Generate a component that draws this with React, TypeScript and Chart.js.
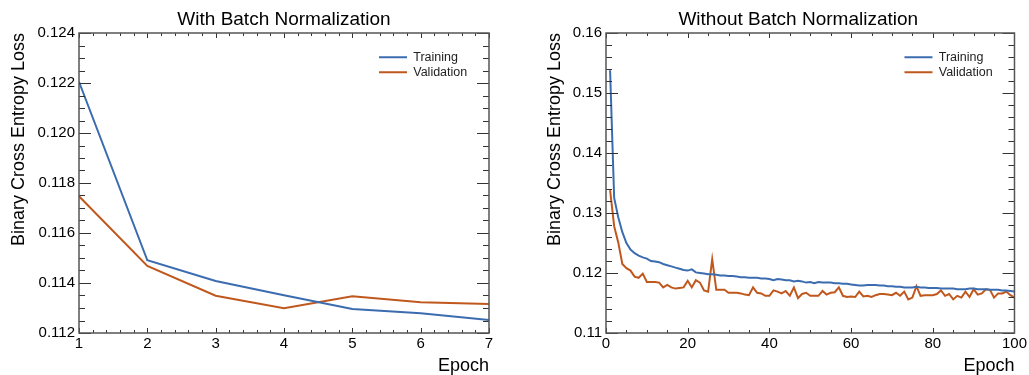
import React, { useEffect, useRef } from "react";
import { Chart, registerables } from "chart.js";

Chart.register(...registerables);

// ---------------- data ----------------
const seriesLabels = ["Training", "Validation"];
const leftTitle = "With Batch Normalization";
const rightTitle = "Without Batch Normalization";
const yAxisTitle = "Binary Cross Entropy Loss";
const xAxisTitle = "Epoch";

const leftEpochs = [1, 2, 3, 4, 5, 6, 7];
const leftTraining = [0.12205, 0.11491, 0.11408, 0.11351, 0.11296, 0.11279, 0.11252];
const leftValidation = [0.11747, 0.11468, 0.11349, 0.11299, 0.11347, 0.11323, 0.11316];

const rightEpochs = Array.from({ length: 100 }, (_, i) => i + 1);
const rightTraining = [
  0.1538, 0.1325, 0.1293, 0.1268, 0.125, 0.1239, 0.1233, 0.1229, 0.1226, 0.1224,
  0.122, 0.1219, 0.1218, 0.1215, 0.1213, 0.1211, 0.1209, 0.1207, 0.1205, 0.1204,
  0.1206, 0.1201, 0.12, 0.1199, 0.1198, 0.1198, 0.1197, 0.1196, 0.1196, 0.1195,
  0.1195, 0.1194, 0.1193, 0.1193, 0.1192, 0.1192, 0.1192, 0.1191, 0.1191, 0.119,
  0.1188, 0.119, 0.1189, 0.1188, 0.1188, 0.1186, 0.1187, 0.1186, 0.1184, 0.1185,
  0.1183, 0.1185, 0.1184, 0.1184, 0.1184, 0.1183, 0.1183, 0.1182, 0.1182, 0.1181,
  0.118, 0.1179, 0.1179, 0.118, 0.118, 0.118, 0.1179, 0.1179, 0.1178, 0.1178,
  0.1177, 0.1177, 0.1176, 0.1176, 0.1176, 0.1177, 0.1176, 0.1176, 0.1175, 0.1175,
  0.1175, 0.1174, 0.1174, 0.1174, 0.1174, 0.1173, 0.1173, 0.1173, 0.1174, 0.1174,
  0.1173, 0.1173, 0.1173, 0.1172, 0.1172, 0.1172, 0.1171, 0.1171, 0.117, 0.1169,
];
const rightValidation = [
  0.1338, 0.1278, 0.1251, 0.1215, 0.1208, 0.1204, 0.1194, 0.1192, 0.1199, 0.1185,
  0.1185, 0.1185, 0.1184, 0.1176, 0.118, 0.1176, 0.1174, 0.1175, 0.1176, 0.1187,
  0.1176, 0.1188, 0.1184, 0.1171, 0.1169, 0.1223, 0.1172, 0.1172, 0.1172, 0.1167,
  0.1167, 0.1167, 0.1166, 0.1164, 0.1163, 0.1176, 0.1167, 0.1166, 0.1162, 0.1162,
  0.1171, 0.1169, 0.1166, 0.117, 0.1162, 0.1176, 0.1158, 0.1165, 0.1167, 0.1162,
  0.1162, 0.1162, 0.117, 0.1164, 0.1167, 0.1168, 0.1176, 0.1162, 0.116, 0.1161,
  0.116, 0.1169, 0.1161, 0.1162, 0.116, 0.1163, 0.1165, 0.1165, 0.1164, 0.1163,
  0.1167, 0.1162, 0.1169, 0.1156, 0.1159, 0.1178, 0.1162, 0.1163, 0.1163, 0.1163,
  0.1165, 0.1171, 0.1162, 0.1165, 0.1156, 0.1162, 0.1159, 0.1169, 0.116, 0.1173,
  0.1164, 0.1166, 0.1173, 0.1172, 0.1159, 0.1166, 0.1166, 0.1169, 0.1163, 0.1159,
];

// ---------------- style ----------------
const BLUE = "#3b6cb0";
const ORANGE = "#c0581e";
const FONT = "'Liberation Sans', Arial, Helvetica, sans-serif";
const TEXT = "#000000";

// ROOT-like frame: inside ticks on all four sides, box frame, pad title, legend placement
const rootFrame: any = {
  id: "rootFrame",
  afterLayout(chart: any, _args: any, opts: any) {
    const lg = chart.legend;
    if (!lg) return;
    const a = chart.chartArea;
    const pad = lg.options.labels.padding;
    lg.left = a.right - opts.legendFromRight - pad;
    lg.top = a.top + opts.legendFromTop - pad;
    lg.right = lg.left + lg.width;
    lg.bottom = lg.top + lg.height;
  },
  afterDatasetsDraw(chart: any, _args: any, opts: any) {
    const { ctx, chartArea: a, scales } = chart;
    const xs = scales.x;
    const ys = scales.y;
    ctx.save();
    ctx.strokeStyle = "#333";
    ctx.lineWidth = 1;
    const each = (scale: any, minor: number, major: number, fn: (p: number, isMajor: boolean) => void) => {
      const n = Math.round((scale.max - scale.min) / minor);
      for (let i = 0; i <= n; i++) {
        const v = scale.min + i * minor;
        const r = v / major;
        const isMajor = Math.abs(r - Math.round(r)) < 1e-6;
        fn(Math.round(scale.getPixelForValue(v)) + 0.5, isMajor);
      }
    };
    ctx.beginPath();
    each(xs, opts.xMinor, opts.xMajor, (p, M) => {
      const len = M ? 5 : 3;
      ctx.moveTo(p, a.bottom);
      ctx.lineTo(p, a.bottom - len);
      ctx.moveTo(p, a.top);
      ctx.lineTo(p, a.top + len);
    });
    each(ys, opts.yMinor, opts.yMajor, (p, M) => {
      const len = M ? 12 : 6;
      ctx.moveTo(a.left, p);
      ctx.lineTo(a.left + len, p);
      ctx.moveTo(a.right, p);
      ctx.lineTo(a.right - len, p);
    });
    ctx.stroke();
    ctx.strokeStyle = "#555";
    ctx.lineWidth = 1.5;
    ctx.strokeRect(a.left, a.top, a.right - a.left, a.bottom - a.top);
    ctx.fillStyle = TEXT;
    ctx.font = `19px ${FONT}`;
    ctx.textAlign = "center";
    ctx.textBaseline = "alphabetic";
    ctx.fillText(opts.title, (a.left + a.right) / 2 + opts.titleShift, 25);
    ctx.restore();
  },
};

function makeConfig(
  epochs: number[],
  training: number[],
  validation: number[],
  c: any
): any {
  const toPts = (vals: number[]) => epochs.map((e, i) => ({ x: e, y: vals[i] }));
  return {
    type: "line",
    data: {
      datasets: [
        {
          label: seriesLabels[0],
          data: toPts(training),
          borderColor: BLUE,
          backgroundColor: BLUE,
          borderWidth: 2,
          pointRadius: 0,
          tension: 0,
          fill: false,
        },
        {
          label: seriesLabels[1],
          data: toPts(validation),
          borderColor: ORANGE,
          backgroundColor: ORANGE,
          borderWidth: 2,
          pointRadius: 0,
          tension: 0,
          fill: false,
        },
      ],
    },
    options: {
      animation: false,
      responsive: false,
      devicePixelRatio: 1,
      events: [],
      layout: { padding: { left: 0, top: 33, right: c.padRight, bottom: 0 } },
      scales: {
        x: {
          type: "linear",
          min: c.xMin,
          max: c.xMax,
          grid: { display: false, drawTicks: false },
          border: { display: false },
          ticks: {
            stepSize: c.xStep,
            autoSkip: false,
            maxRotation: 0,
            padding: 2,
            color: TEXT,
            font: { size: 15, family: FONT },
            callback: (v: number) => String(v),
          },
          title: {
            display: true,
            text: xAxisTitle,
            align: "end",
            color: TEXT,
            font: { size: 18, family: FONT, lineHeight: 1 },
            padding: { top: 0, bottom: 0 },
          },
          afterFit: (s: any) => {
            s.height = 42;
          },
        },
        y: {
          type: "linear",
          min: c.yMin,
          max: c.yMax,
          grid: { display: false, drawTicks: false },
          border: { display: false },
          ticks: {
            stepSize: c.yStep,
            autoSkip: false,
            padding: 4,
            color: TEXT,
            font: { size: 15, family: FONT },
            callback: (v: number) => v.toFixed(c.yDigits),
          },
          title: {
            display: true,
            text: yAxisTitle,
            align: "end",
            color: TEXT,
            font: { size: 18, family: FONT, lineHeight: 1.2 },
            padding: { top: c.yTitlePad, bottom: 0 },
          },
          afterFit: (s: any) => {
            s.width = c.yWidth;
          },
        },
      },
      plugins: {
        title: { display: false },
        tooltip: { enabled: false },
        legend: {
          display: true,
          position: "chartArea",
          align: "start",
          labels: {
            boxWidth: 28,
            boxHeight: 2,
            padding: 2.5,
            color: "#222",
            font: { size: 12.5, family: FONT },
            generateLabels: (chart: any) =>
              Chart.defaults.plugins.legend.labels
                .generateLabels(chart)
                .map((l: any) => ({ ...l, lineWidth: 0, fillStyle: l.strokeStyle })),
          },
        },
        rootFrame: {
          xMajor: c.xStep,
          xMinor: c.xMinor,
          yMajor: c.yStep,
          yMinor: c.yMinor,
          title: c.title,
          titleShift: c.titleShift,
          legendFromRight: 110,
          legendFromTop: 18,
        },
      },
    },
    plugins: [rootFrame],
  };
}

function ChartCanvas({ config, width, height, left }: any) {
  const ref = useRef<HTMLCanvasElement | null>(null);
  useEffect(() => {
    if (!ref.current) return;
    const chart = new Chart(ref.current, config);
    return () => chart.destroy();
  }, [config]);
  return (
    <canvas
      ref={ref}
      width={width}
      height={height}
      style={{ position: "absolute", left, top: 0, width, height }}
    />
  );
}

const leftConfig = makeConfig(leftEpochs, leftTraining, leftValidation, {
  xMin: 1,
  xMax: 7,
  xStep: 1,
  xMinor: 0.2,
  yMin: 0.112,
  yMax: 0.124,
  yStep: 0.002,
  yMinor: 0.0005,
  yDigits: 3,
  yWidth: 79,
  yTitlePad: 8,
  padRight: 26,
  title: leftTitle,
  titleShift: 0,
});

const rightConfig = makeConfig(rightEpochs, rightTraining, rightValidation, {
  xMin: 0,
  xMax: 100,
  xStep: 20,
  xMinor: 5,
  yMin: 0.11,
  yMax: 0.16,
  yStep: 0.01,
  yMinor: 0.002,
  yDigits: 2,
  yWidth: 71,
  yTitlePad: 9,
  padRight: 13,
  title: rightTitle,
  titleShift: -12,
});

export default function App() {
  return (
    <div
      style={{
        position: "absolute",
        left: 0,
        top: 0,
        width: 1029,
        height: 375,
        overflow: "hidden",
        background: "#ffffff",
      }}
    >
      <ChartCanvas config={leftConfig} width={515} height={375} left={0} />
      <ChartCanvas config={rightConfig} width={494} height={375} left={535} />
    </div>
  );
}
